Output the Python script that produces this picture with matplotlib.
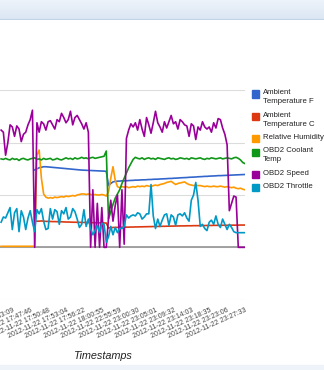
import numpy as np
import matplotlib.pyplot as plt
import matplotlib.transforms as mtransforms
from matplotlib.patches import Rectangle

plt.rcParams['font.family'] = ['Liberation Sans', 'DejaVu Sans']

# x tick labels (every 8th sample)
tick_labels = ['2012-11-22 17:43:09', '2012-11-22 17:47:46', '2012-11-22 17:50:48',
               '2012-11-22 17:53:04', '2012-11-22 17:56:22', '2012-11-22 18:00:55',
               '2012-11-22 22:55:59', '2012-11-22 23:00:30', '2012-11-22 23:05:01',
               '2012-11-22 23:09:32', '2012-11-22 23:14:03', '2012-11-22 23:18:35',
               '2012-11-22 23:23:06', '2012-11-22 23:27:33']
tick_pos = [4, 12, 20, 28, 36, 44, 52, 60, 68, 76, 84, 92, 100, 108]

nan = np.nan

temp_f = [nan] * 15 + [
    74, 75, 76, 76.5, 77, 77, 76.8, 76.6, 76.4, 76.2, 76, 75.8, 75.6, 75.4, 75.2, 75,
    74.8, 74.6, 74.4, 74.2, 74, 73.8, 73.7, 73.6, 73.5, 73.4, 73.3, 73.2, 73.1, 73,
    72.9, 72.8, 72.6,
    59, 61, 62.5, 63, 63.2, 63.3, 63.5, 63.6, 63.6, 63.8, 63.9, 64, 64.2, 64.2, 64.3,
    64.5, 64.5, 64.6, 64.8, 64.8, 65, 65.1, 65.1, 65.3, 65.4, 65.5, 65.6, 65.8, 65.8,
    66, 66.1, 66.2, 66.4, 66.5, 66.6, 66.7, 66.9, 67, 67.1, 67.2, 67.4, 67.5, 67.6,
    67.8, 67.8, 68, 68.1, 68.2, 68.3, 68.5, 68.5, 68.6, 68.7, 68.8, 68.9, 69, 69.1,
    69.2, 69.3, 69.4, 69.5, 69.6]

temp_c = [nan] * 16 + [
    25, 25, 25.2, 25, 24.8, 24.8, 24.7, 24.6, 24.6, 24.5, 24.4, 24.4, 24.3, 24.2, 24.2,
    24.1, 24, 24, 23.9, 23.9, 23.8, 23.8, 23.7, 23.7, 23.6, 23.6, 23.5, 23.5, 23.4,
    23.4, 23.3, 23.2,
    18.5, 18.8, 19, 19, 19.1, 19.1, 19.2, 19.2, 19.3, 19.3, 19.4, 19.4, 19.5, 19.5,
    19.6, 19.6, 19.7, 19.7, 19.8, 19.8, 19.9, 19.9, 20, 20, 20.1, 20.1, 20.2, 20.2,
    20.3, 20.3, 20.4, 20.4, 20.5, 20.5, 20.5, 20.6, 20.6, 20.6, 20.7, 20.7, 20.7, 20.8,
    20.8, 20.8, 20.9, 20.9, 20.9, 21, 21, 21, 21, 21.1, 21.1, 21.1, 21.1, 21.2, 21.2,
    21.2, 21.2, 21.3, 21.3, 21.3]

humidity = [1] * 16 + [
    88, 93, 66, 51, 48, 47, 47.5, 47, 48, 47.5, 48, 48.5, 48, 49, 48.5, 49, 49.5, 49,
    50, 50.5, 51, 51, 50.5, 51, 50.5, 50, 50.5, 50, 50, 50.5, 50, 49,
    53, 66, 77, 64, 58, 57, 58, 57.5, 58, 57, 57.5, 58, 57.5, 58.5, 58, 58.5, 58, 59,
    58.5, 58, 59, 59.5, 59, 60, 60.5, 61, 62, 62.5, 63, 61.5, 60, 61, 61.5, 62, 62.5,
    61, 60, 59.5, 59, 59.5, 59, 59, 58.5, 58, 58.5, 58, 58, 58.5, 58, 58, 58.5, 58,
    57.5, 58, 57.5, 57, 57.5, 56.5, 56, 56.5, 55.5, 55]

coolant = [
    84.5, 84, 85, 84, 83.5, 85, 84, 84.5, 83, 84.5, 85,
    84, 83.5, 84.5, 85, 85.5, 84, 84.5, 83.5, 85, 84,
    84.5, 85, 83.5, 84, 85, 84, 83.5, 84.5, 85.5, 84.5,
    85, 84, 85.5, 84.5, 85, 86, 85, 85.5, 84.5, 85.5,
    86, 85, 85.5, 86, 86.5, 87, 92,
    27, 34, 41, 47, 51, 55, 61, 66, 71, 76, 80, 84, 86,
    85, 84.5, 85.5, 84, 85, 85.5, 84.5, 85, 84, 85.5,
    85, 84.5, 84, 85, 85.5, 84.5, 85, 84, 84.5, 85.5,
    85, 84.5, 85, 84, 85.5, 85, 84.5, 85, 85.5, 84.5,
    84, 85, 84.5, 85.5, 85, 84.5, 85, 85.5, 84.5, 85,
    85.5, 85, 84.5, 85.5, 86, 85, 83.5, 81, 80]

speed = [
    112, 110, 88, 100, 117, 115, 106, 116, 113, 101, 108, 110, 117, 122, 131, 0,
    119, 110, 120, 118, 112, 120, 121, 117, 113, 122, 120, 128, 124, 119, 122,
    130, 117, 124, 126, 122, 118, 113, 119, 110, 0,
    55, 0, 42, 0, 38, 0, 0, 28, 45, 25, 40, 50, 0, 55, 3,
    104, 112, 118, 115, 119, 112, 122, 113, 106, 124, 117, 109, 119, 130, 119,
    115, 110, 120, 114, 120, 126, 118, 120, 113, 122, 120, 117, 116, 106, 118,
    116, 103, 115, 112, 120, 115, 113, 115, 110, 119, 114, 123, 122, 114, 108, 98,
    35, 42, 49, 48, 0, 0, 0, 0]

throttle = [
    24, 29, 28, 33, 38, 17, 33, 37, 15, 35, 29, 17, 28, 35, 24, 15, 36, 32, 37, 25, 17,
    18, 37, 27, 36, 34, 22, 35, 32, 38, 27, 29, 37, 34, 27, 19, 22, 36, 20, 27, 18,
    12, 16, 21, 14, 23, 22, 5, 10, 20, 12, 19, 14, 18, 18, 20, 31, 28, 30, 31, 30,
    33, 32, 27, 29, 32, 32, 60, 30, 18, 27, 20, 26, 31, 32, 21, 31, 29, 21, 31, 32,
    30, 33, 28, 25, 45, 50, 62, 45, 20, 22, 18, 16, 24, 26, 22, 30, 22, 19, 27, 22,
    17, 22, 19, 15, 14, 14, 14, 14, 14]

series = [('Ambient Temperature F', temp_f, '#3366cc'),
          ('Ambient Temperature C', temp_c, '#dc3912'),
          ('Relative Humidity', humidity, '#ff9900'),
          ('OBD2 Coolant Temp', coolant, '#109618'),
          ('OBD2 Speed', speed, '#990099'),
          ('OBD2 Throttle', throttle, '#0099c6')]
legend_text = ['Ambient\nTemperature F', 'Ambient\nTemperature C', 'Relative Humidity',
               'OBD2 Coolant\nTemp', 'OBD2 Speed', 'OBD2 Throttle']

W, H = 324, 370
fig = plt.figure(figsize=(W / 100, H / 100), dpi=100)
fig.patch.set_facecolor('white')

# header strip of the screenshot
hdr = fig.add_axes([0, 1 - 20 / H, 1, 20 / H])
hdr.imshow(np.linspace(0, 1, 20).reshape(-1, 1), aspect='auto',
           cmap=plt.matplotlib.colors.LinearSegmentedColormap.from_list('h', ['#edf3fa', '#dbe6f3']),
           extent=[0, 1, 0, 1])
hdr.axhline(0, color='#c3d3e6', lw=1.5)
hdr.axis('off')
fig.add_artist(Rectangle((0, 0), 1, 5 / H, transform=fig.transFigure, color='#eef2f9'))

ax = fig.add_axes([0, 1 - 300 / H, 245 / W, 210 / H])
x = np.arange(-1, len(speed) - 1)
for name, vals, col in series:
    ax.plot(x, vals, color=col, lw=1.2, label=name)

ax.set_xlim(-1.5, 108)
ax.set_ylim(-50.3, 150.3)
ax.set_yticks([-50, 0, 50, 100, 150])
ax.yaxis.grid(True, color='#dcdcdc', lw=0.8)
ax.set_axisbelow(True)
ax.axhline(0, color='#9a9a9a', lw=1.3, zorder=1.5)
ax.tick_params(axis='y', length=0, labelleft=False)
ax.set_xticks(tick_pos)
ax.set_xticklabels(tick_labels, rotation=24, ha='right', fontsize=5.0, color='#444444')
ax.tick_params(axis='x', length=0, pad=5)
shift = mtransforms.ScaledTranslation(3 / 100, 0, fig.dpi_scale_trans)
for lab in ax.get_xticklabels():
    lab.set_transform(lab.get_transform() + shift)
for s in ax.spines.values():
    s.set_visible(False)
ax.set_xlabel('Timestamps', fontsize=7.8, style='italic', color='#222222')
ax.xaxis.set_label_coords(102 / 245, -51 / 210)

# legend
y = 94
for (name, vals, col), txt in zip(series, legend_text):
    fig.add_artist(Rectangle((252 / W, 1 - (y + 3.5) / H), 7 / W, 7 / H,
                             transform=fig.transFigure, color=col))
    fig.text(263 / W, 1 - (y - 4.5) / H, txt, fontsize=5.6, color='#222222',
             va='top', ha='left', linespacing=1.3)
    y += 10 * txt.count('\n') + 12.5 + (0.5 if '\n' not in txt else 0)

fig.savefig('out.png', dpi=100)
